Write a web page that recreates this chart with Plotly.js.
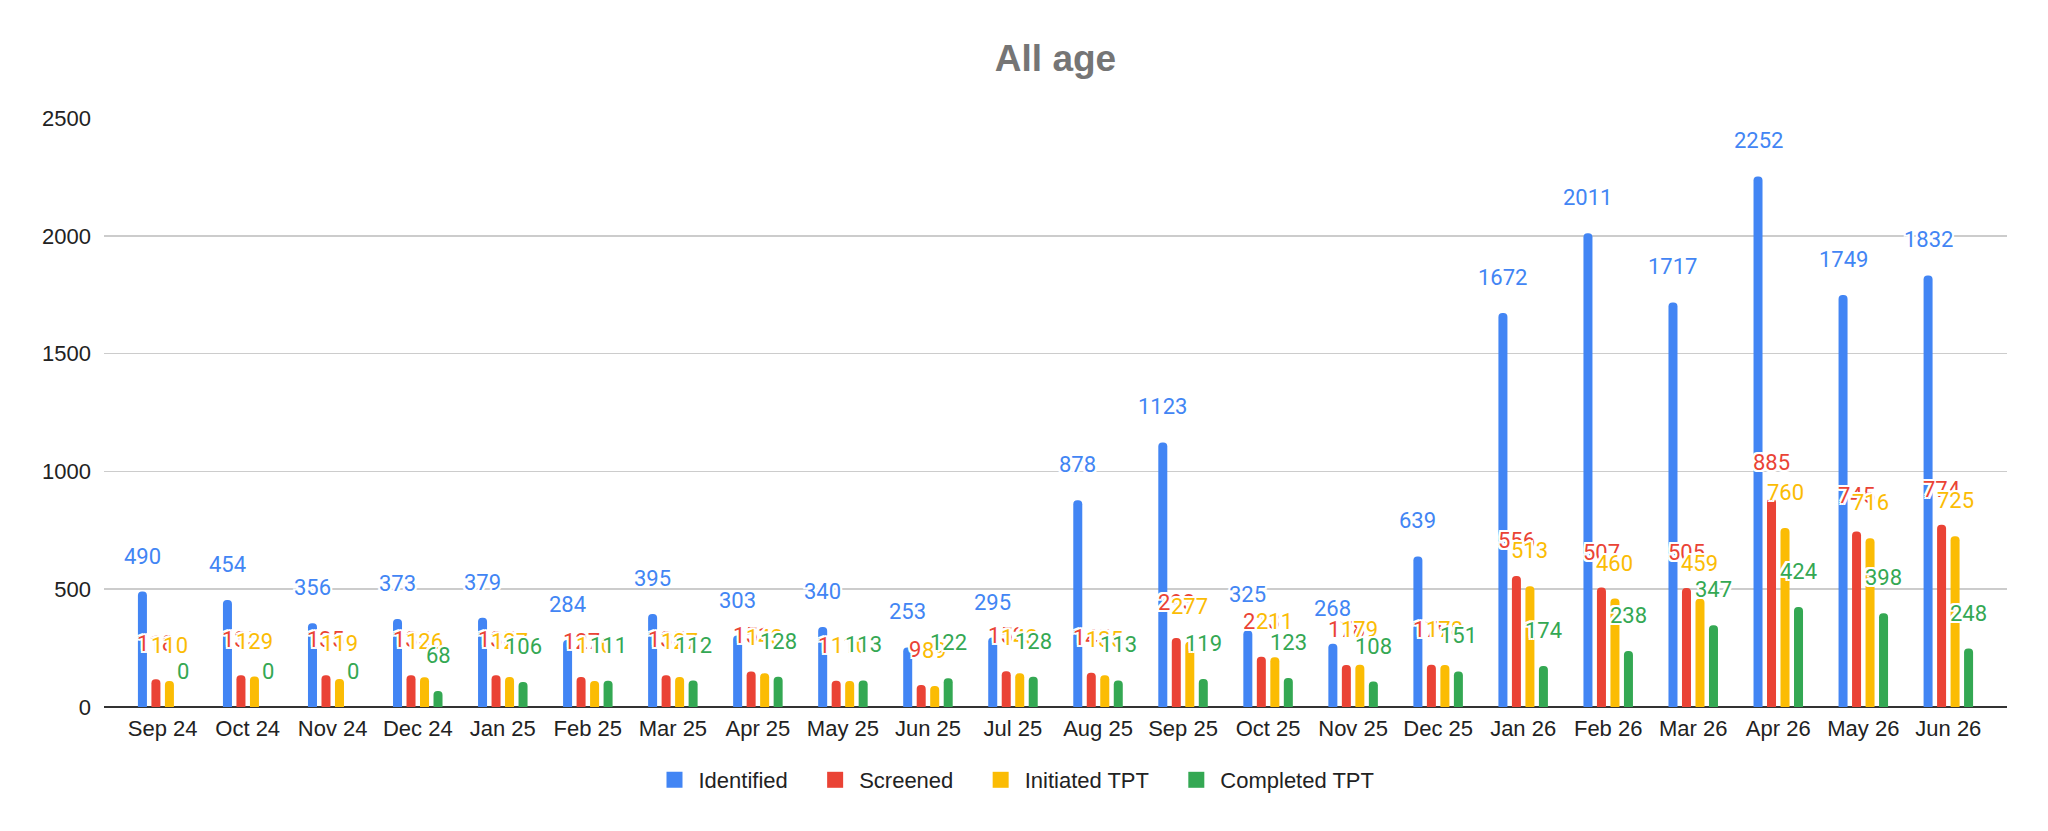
<!DOCTYPE html>
<html>
<head>
<meta charset="utf-8">
<script src="https://cdn.plot.ly/plotly-3.0.1.min.js"></script>
<style>
  html, body { margin: 0; padding: 0; background: #fff; }
  #plot { width: 2048px; height: 831px; }
</style>
</head>
<body>
<div id="plot"></div>
<script>
// values
let months = ['Sep 24', 'Oct 24', 'Nov 24', 'Dec 24', 'Jan 25', 'Feb 25', 'Mar 25', 'Apr 25',
              'May 25', 'Jun 25', 'Jul 25', 'Aug 25', 'Sep 25', 'Oct 25', 'Nov 25', 'Dec 25',
              'Jan 26', 'Feb 26', 'Mar 26', 'Apr 26', 'May 26', 'Jun 26'];
let identified = [490, 454, 356, 373, 379, 284, 395, 303, 340, 253, 295, 878, 1123, 325, 268, 639,
                  1672, 2011, 1717, 2252, 1749, 1832];
let screened = [118, 135, 135, 135, 135, 127, 135, 151, 111, 93, 152, 145, 293, 213, 178, 179,
                556, 507, 505, 885, 745, 774];
let initiated = [110, 129, 119, 126, 127, 110, 127, 143, 110, 89, 143, 135, 277, 211, 179, 178,
                 513, 460, 459, 760, 716, 725];
let completed = [0, 0, 0, 68, 106, 111, 112, 128, 113, 122, 128, 113, 119, 123, 108, 151,
                 174, 238, 347, 424, 398, 248];

let seriesNames = ['Identified', 'Screened', 'Initiated TPT', 'Completed TPT'];
let seriesValues = [identified, screened, initiated, completed];
let colors = ['#4285F4', '#EA4335', '#FBBC04', '#34A853'];

let barGap = 0.365;
let slot = (1 - barGap) / seriesNames.length;

let traces = seriesNames.map((name, i) => ({
    type: 'bar',
    name: name,
    x: months,
    y: seriesValues[i],
    marker: {color: colors[i]},
    showlegend: false,
    hoverinfo: 'skip'
}));

// legend keys: square swatches like the original legend
seriesNames.forEach((name, i) => {
    traces.push({
        type: 'scatter',
        mode: 'markers',
        name: name + '\u00a0\u00a0\u00a0',
        x: [months[0]],
        y: [null],
        marker: {symbol: 'square', size: 16, color: colors[i]},
        showlegend: true,
        hoverinfo: 'skip'
    });
});

// value labels, drawn above each bar with a white halo
let halo = '2px 0 0 #fff, -2px 0 0 #fff, 0 2px 0 #fff, 0 -2px 0 #fff, ' +
           '2px 2px 0 #fff, -2px -2px 0 #fff, 2px -2px 0 #fff, -2px 2px 0 #fff';
let labels = [];
seriesValues.forEach((vals, i) => {
    vals.forEach((v, j) => {
        labels.push({
            x: j + (i - 1.5) * slot,
            y: v,
            xref: 'x',
            yref: 'y',
            text: String(v),
            showarrow: false,
            yanchor: 'bottom',
            yshift: 21,
            font: {family: 'Roboto', size: 22, color: colors[i], shadow: halo}
        });
    });
});

let layout = {
    width: 2048,
    height: 831,
    margin: {l: 104, r: 41, t: 118, b: 124},
    paper_bgcolor: '#fff',
    plot_bgcolor: '#fff',
    font: {family: 'Liberation Sans, Arial, sans-serif', color: '#222'},
    title: {
        text: '<b>All age</b>',
        font: {family: 'Liberation Sans, Arial, sans-serif', size: 37, color: '#757575'},
        x: 0.5,
        xanchor: 'center',
        xref: 'paper',
        y: 1 - 58 / 831,
        yref: 'container',
        yanchor: 'middle'
    },
    barmode: 'group',
    bargap: barGap,
    bargroupgap: 0.333,
    barcornerradius: 4,
    xaxis: {
        type: 'category',
        range: [-0.69, months.length - 0.31],
        tickfont: {size: 22, color: '#222'},
        ticks: '',
        showgrid: false,
        showline: false,
        zeroline: false,
        ticklabelstandoff: 6
    },
    yaxis: {
        range: [0, 2500],
        dtick: 500,
        tickfont: {size: 22, color: '#222'},
        gridcolor: '#cccccc',
        gridwidth: 1.5,
        zeroline: true,
        zerolinecolor: '#333',
        zerolinewidth: 2,
        showline: false,
        ticks: '',
        ticklabelstandoff: 12
    },
    legend: {
        orientation: 'h',
        x: 0.5,
        xanchor: 'center',
        xref: 'container',
        y: 1 - 780 / 831,
        yref: 'container',
        yanchor: 'middle',
        font: {size: 22, color: '#222'},
        itemwidth: 38
    },
    annotations: labels,
    showlegend: true
};

Plotly.newPlot('plot', traces, layout, {displayModeBar: false, staticPlot: true});
</script>
</body>
</html>
